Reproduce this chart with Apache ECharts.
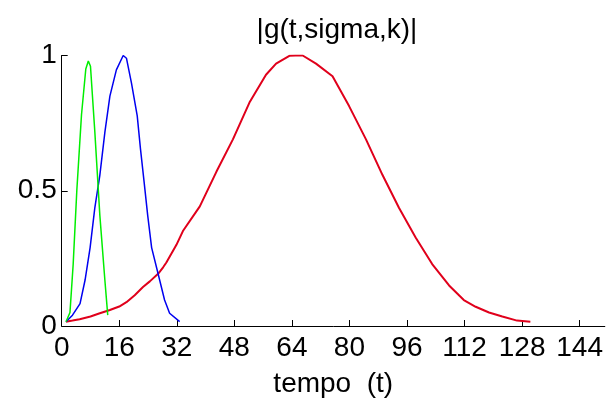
<!DOCTYPE html>
<html>
<head>
<meta charset="utf-8">
<script src="https://cdn.jsdelivr.net/npm/echarts@6/dist/echarts.min.js"></script>
<style>html,body{margin:0;padding:0;background:#fff}#c{width:606px;height:403px}</style>
</head>
<body>
<div id="c"></div>
<script>
const titleText = '|g(t,sigma,k)|';
const xName = 'tempo  (t)';
const xTicks = [0, 16, 32, 48, 64, 80, 96, 112, 128, 144];
const yTicks = [0, 0.5, 1];

const greenT = [1.2, 2.3, 3.2, 4.2, 5.5, 6.7, 7.4, 8.0, 9.2, 10.6, 12.0, 12.8];
const greenV = [0.016, 0.05, 0.23, 0.50, 0.78, 0.95, 0.98, 0.96, 0.72, 0.41, 0.17, 0.04];

const blueT = [1.2, 3.0, 5.1, 6.5, 7.9, 9.2, 10.6, 12.0, 13.4, 15.2, 17.1, 18.0, 19.4, 21.0, 21.9, 22.9, 23.9, 25.0, 26.8, 28.6, 30.0, 32.8];
const blueV = [0.016, 0.04, 0.083, 0.17, 0.29, 0.436, 0.557, 0.716, 0.85, 0.947, 1.0, 0.99, 0.898, 0.777, 0.655, 0.534, 0.41, 0.29, 0.193, 0.096, 0.047, 0.016];

const redT = [1.2, 3, 5, 8, 10.6, 13.4, 16, 18, 20.3, 22.6, 24.5, 26.8, 28.2, 29.1, 31.9, 33.7, 38.4, 43, 47.6, 52.2, 56.8, 59.6, 63.3, 65, 67, 70.7, 75.3, 79.9, 84.6, 89.2, 93.8, 98.4, 103, 107.7, 111.8, 115.1, 118.8, 122.5, 126.6, 130.3];
const redV = [0.016, 0.02, 0.025, 0.035, 0.047, 0.059, 0.072, 0.088, 0.114, 0.144, 0.165, 0.193, 0.217, 0.235, 0.30, 0.351, 0.442, 0.57, 0.69, 0.826, 0.929, 0.97, 0.999, 1.0, 1.0, 0.97, 0.923, 0.813, 0.69, 0.558, 0.436, 0.327, 0.229, 0.15, 0.096, 0.071, 0.05, 0.035, 0.02, 0.016];

function zip(a, b) { return a.map((v, i) => [v, b[i]]); }

const FONT = "'Liberation Sans', Arial, sans-serif";
const chart = echarts.init(document.getElementById('c'), null, {renderer: 'canvas'});
chart.setOption({
  animation: false,
  backgroundColor: '#fff',
  title: {
    text: titleText, left: 332, top: 11, textAlign: 'center',
    textStyle: {fontFamily: FONT, fontSize: 28, fontWeight: 'normal', color: '#000'}
  },
  grid: {left: 61.7, right: 0, top: 55.5, bottom: 73.5, containLabel: false},
  xAxis: {
    type: 'value', min: 0, max: 151,
    name: xName, nameLocation: 'middle', nameGap: 44,
    nameTextStyle: {fontFamily: FONT, fontSize: 28, color: '#000'},
    axisLine: {show: true, lineStyle: {color: '#000', width: 1}},
    axisTick: {show: true, inside: true, length: 6, customValues: xTicks, lineStyle: {color: '#000'}},
    axisLabel: {customValues: xTicks, margin: 8, fontFamily: FONT, fontSize: 28, color: '#000'},
    splitLine: {show: false}
  },
  yAxis: {
    type: 'value', min: 0, max: 1,
    axisLine: {show: true, lineStyle: {color: '#000', width: 1}},
    axisTick: {show: true, inside: true, length: 6, customValues: yTicks, lineStyle: {color: '#000'}},
    axisLabel: {customValues: yTicks, margin: 5, fontFamily: FONT, fontSize: 28, color: '#000',
      formatter: v => String(v)},
    splitLine: {show: false}
  },
  series: [
    {type: 'line', data: zip(redT, redV), showSymbol: false, lineStyle: {color: '#e0001b', width: 2}, z: 2},
    {type: 'line', data: zip(blueT, blueV), showSymbol: false, lineStyle: {color: '#0000f0', width: 1.5}, z: 3},
    {type: 'line', data: zip(greenT, greenV), showSymbol: false, lineStyle: {color: '#00ee00', width: 1.5}, z: 4}
  ]
});
</script>
</body>
</html>
